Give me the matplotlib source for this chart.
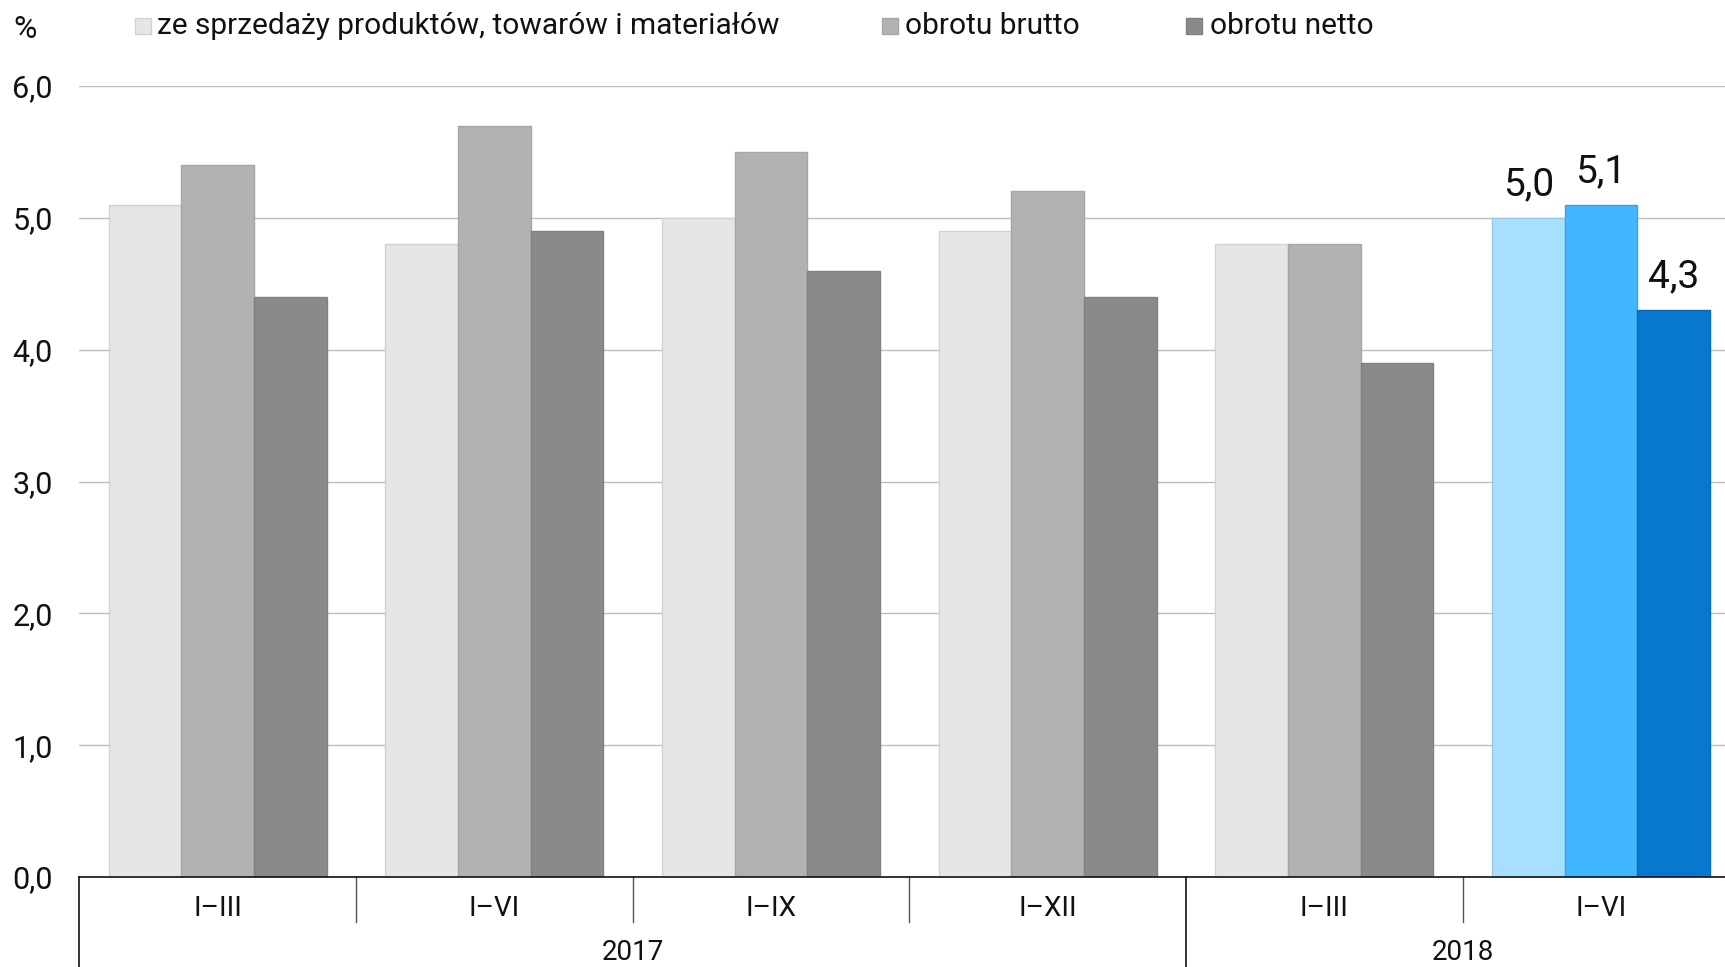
import matplotlib
matplotlib.use("Agg")
import matplotlib.pyplot as plt
from matplotlib.patches import Rectangle
from matplotlib import font_manager

names = {f.name for f in font_manager.fontManager.ttflist}
FONT = "Liberation Sans Narrow" if "Liberation Sans Narrow" in names else "Roboto"
plt.rcParams['font.family'] = [FONT, 'DejaVu Sans']

# ---- data ----
periods = ["I–III", "I–VI", "I–IX", "I–XII", "I–III", "I–VI"]
years = ["2017", "2018"]
series_names = ["ze sprzedaży produktów, towarów i materiałów", "obrotu brutto", "obrotu netto"]
sprzedaz = [5.1, 4.8, 5.0, 4.9, 4.8, 5.0]
brutto = [5.4, 5.7, 5.5, 5.2, 4.8, 5.1]
netto = [4.4, 4.9, 4.6, 4.4, 3.9, 4.3]
yticks = [0, 1, 2, 3, 4, 5, 6]

gray_colors = ["#e6e6e6", "#b2b2b2", "#8a8a8a"]
gray_edges = ["#d2d2d2", "#a6a6a6", "#808080"]
blue_colors = ["#a6dfff", "#42b6ff", "#0778cd"]
blue_edges = ["#95c8e6", "#3ba3e6", "#066cb8"]

FS = 21.5
FSX = 20
W, H = 1725, 967
fig = plt.figure(figsize=(W / 100, H / 100), dpi=100)
ax_left = 79.2 / W
ax_bottom = 1 - 877 / H
ax_top = 1 - 86 / H
ax = fig.add_axes([ax_left, ax_bottom, 1 - ax_left, ax_top - ax_bottom])

group_px = 276.7
xmax = -0.5 + (W - 79.2) / group_px
bw = 0.2625
n = len(periods)
for s, vals in enumerate([sprzedaz, brutto, netto]):
    for i in range(n):
        last = (i == n - 1)
        ax.bar(i + (s - 1) * bw, vals[i], width=bw,
               color=(blue_colors if last else gray_colors)[s],
               edgecolor=(blue_edges if last else gray_edges)[s],
               linewidth=1.0, zorder=3)
        if last:
            ax.text(i + (s - 1) * bw, vals[i] + 0.11, f"{vals[i]:.1f}".replace(".", ","),
                    ha="center", va="bottom", fontsize=28, family=["Roboto", "DejaVu Sans"],
                    color="#111111", zorder=4)

ax.set_xlim(-0.5, xmax)
ax.set_ylim(0, 6)
ax.set_yticks(yticks)
ax.set_yticklabels([f"{v:.1f}".replace(".", ",") for v in yticks], fontsize=22)
ax.yaxis.grid(True, color="#bdbdbd", linewidth=1.0, zorder=0)
ax.set_axisbelow(True)
for sp in ["left", "right", "top"]:
    ax.spines[sp].set_visible(False)
ax.spines["bottom"].set_color("#111111")
ax.spines["bottom"].set_linewidth(1.2)
ax.spines["bottom"].set_zorder(5)
ax.tick_params(axis="y", length=0, pad=19, labelcolor="#111111")

ax.set_xticks(range(n))
ax.set_xticklabels(periods, fontsize=FSX, color="#111111")
ax.tick_params(axis="x", length=0, pad=13)

trans = ax.get_xaxis_transform()
# separators
for b in [0.5, 1.5, 2.5, 4.5]:
    ax.plot([b, b], [0, -0.057], transform=trans, color="#555555", lw=1.0, clip_on=False)
for b in [-0.5, 3.5]:
    ax.plot([b, b], [0, -0.15], transform=trans, color="#111111", lw=1.2, clip_on=False)
# year labels
ax.text(1.5, -0.095, years[0], transform=trans, ha="center", va="center", fontsize=FSX, color="#111111")
ax.text(4.5, -0.095, years[1], transform=trans, ha="center", va="center", fontsize=FSX, color="#111111")

# legend
leg_sq = [135, 882, 1186]
leg_tx = [157, 905, 1210]
ly = 1 - 26 / H
sq = 16
for k in range(3):
    fig.patches.append(Rectangle((leg_sq[k] / W, ly - sq / 2 / H), sq / W, sq / H,
                                 transform=fig.transFigure, facecolor=gray_colors[k],
                                 edgecolor=gray_edges[k], linewidth=1.0))
    fig.text(leg_tx[k] / W, ly, series_names[k], ha="left", va="center", fontsize=FS, color="#111111")

fig.text(13 / W, 1 - 29 / H, "%", ha="left", va="center", fontsize=23, color="#111111")

fig.savefig("out.png", dpi=100)
